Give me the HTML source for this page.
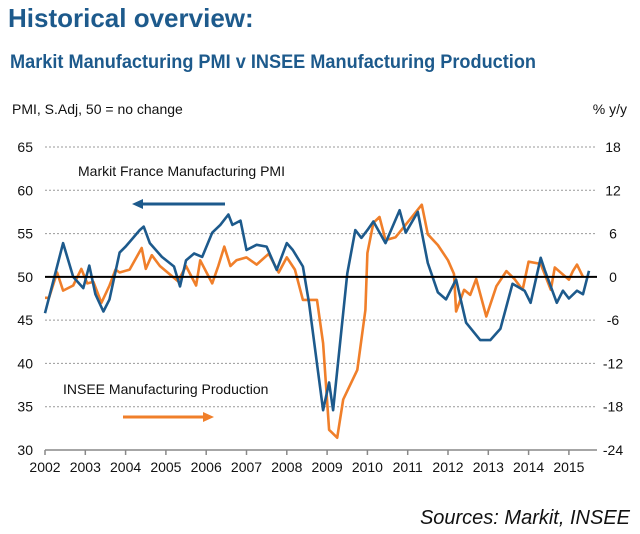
<!DOCTYPE html>
<html><head><meta charset="utf-8"><style>
body{margin:0;background:#fff;width:640px;height:534px;overflow:hidden;font-family:"Liberation Sans",sans-serif;}
svg{display:block}
</style></head><body>
<svg id="chart" width="640" height="534" viewBox="0 0 640 534" xmlns="http://www.w3.org/2000/svg">
<text x="8" y="27" font-size="26" font-weight="bold" fill="#1d5a8c" font-family="Liberation Sans, sans-serif">Historical overview:</text>
<text x="10" y="68" font-size="19" font-weight="bold" fill="#1d5a8c" font-family="Liberation Sans Narrow, Liberation Sans, sans-serif" textLength="526" lengthAdjust="spacingAndGlyphs">Markit Manufacturing PMI v INSEE Manufacturing Production</text>
<text x="12" y="114" font-size="14" fill="#111">PMI, S.Adj, 50 = no change</text>
<text x="627" y="114" font-size="14" fill="#111" text-anchor="end">% y/y</text>
<g id="grid"></g><g id="axes"></g><g id="series"></g>
<text x="78" y="176" font-size="14" fill="#111">Markit France Manufacturing PMI</text>
<g><line x1="225" y1="204" x2="140" y2="204" stroke="#1d5a8c" stroke-width="3"/><polygon points="132,204 143,199 143,209" fill="#1d5a8c"/></g>
<text x="63" y="394" font-size="14" fill="#111">INSEE Manufacturing Production</text>
<g><line x1="123" y1="417" x2="206" y2="417" stroke="#f07f2a" stroke-width="3"/><polygon points="214,417 203,412 203,422" fill="#f07f2a"/></g>
<text x="630" y="524" font-size="20" font-style="italic" fill="#111" text-anchor="end">Sources: Markit, INSEE</text>
</svg>
<script>
const leftTicks=[30,35,40,45,50,55,60,65];
const rightTicks=[-24,-18,-12,-6,0,6,12,18];
const years=[2002,2003,2004,2005,2006,2007,2008,2009,2010,2011,2012,2013,2014,2015];
const pmiDates=[2002.0,2002.45,2002.7,2002.95,2003.1,2003.25,2003.45,2003.6,2003.85,2004.0,2004.35,2004.45,2004.6,2004.9,2005.2,2005.35,2005.5,2005.7,2005.9,2006.15,2006.35,2006.55,2006.65,2006.85,2007.0,2007.25,2007.5,2007.75,2008.0,2008.15,2008.4,2008.55,2008.9,2009.05,2009.15,2009.5,2009.7,2009.85,2010.0,2010.15,2010.45,2010.8,2010.95,2011.25,2011.5,2011.75,2011.95,2012.2,2012.45,2012.8,2013.05,2013.3,2013.6,2013.9,2014.05,2014.3,2014.4,2014.7,2014.85,2015.0,2015.2,2015.35,2015.5];
const pmiValues=[45.8,53.9,50,48.7,51.3,48,46,47.4,52.8,53.5,55.4,55.8,53.9,52.3,51.2,48.9,51.9,52.7,52.3,55.1,56,57.2,56,56.5,53.1,53.7,53.5,50.8,53.9,53.1,51.2,47,34.6,37.8,34.6,50.4,55.4,54.5,55.4,56.4,53.9,57.7,55.1,57.5,51.6,48.2,47.4,49.7,44.7,42.7,42.7,44,49.2,48.4,47,52.2,50.8,47,48.4,47.5,48.4,48,50.7];
const inseeDates=[2002.0,2002.1,2002.3,2002.45,2002.7,2002.9,2003.05,2003.2,2003.4,2003.6,2003.75,2003.85,2004.1,2004.4,2004.5,2004.65,2004.85,2005.3,2005.5,2005.75,2005.85,2006.15,2006.3,2006.45,2006.6,2006.75,2007.0,2007.25,2007.55,2007.8,2008.0,2008.2,2008.4,2008.55,2008.75,2008.9,2009.05,2009.25,2009.4,2009.75,2009.95,2010.0,2010.15,2010.3,2010.45,2010.7,2011.35,2011.5,2011.75,2012.0,2012.15,2012.2,2012.4,2012.55,2012.7,2012.95,2013.2,2013.45,2013.65,2013.85,2014.0,2014.3,2014.55,2014.65,2015.0,2015.1,2015.2,2015.35];
const inseeValues=[-2.9,-2.9,0.6,-1.9,-1.2,1.1,-0.9,-0.7,-3.6,-1.2,1,0.6,1,4,1.1,3,1.5,-0.6,1.5,-1.2,2.3,-0.9,1.5,4.2,1.5,2.3,2.7,1.7,3.2,0.6,2.7,1,-3.2,-3.2,-3.2,-9.2,-21.2,-22.3,-17,-12.9,-4.6,3.3,7.5,8.3,5.1,5.5,10,5.9,4.4,2.3,0.4,-4.8,-1.8,-2.5,-0.3,-5.5,-1.3,0.8,-0.3,-1.8,2.1,1.8,-1.8,1.3,-0.4,0.8,1.7,0];
const NS='http://www.w3.org/2000/svg';
const X0=45, XSTEP=40.3, YTOP=147, YBOT=450;
function xs(d){return X0+(d-2002)*XSTEP;}
function yL(v){return YBOT-(v-30)/35*(YBOT-YTOP);}
function yR(v){return YBOT-(v+24)/42*(YBOT-YTOP);}
function mk(tag,attrs,parent){const e=document.createElementNS(NS,tag);for(const k in attrs)e.setAttribute(k,attrs[k]);parent.appendChild(e);return e;}
const grid=document.getElementById('grid'),axes=document.getElementById('axes'),series=document.getElementById('series');
leftTicks.forEach(v=>{
  if(v!==30&&v!==50){const g=mk('line',{x1:45,x2:597,y1:yL(v),y2:yL(v),stroke:'#999','stroke-width':1,'stroke-dasharray':'2,2'},grid);
  
  }
  const t=mk('text',{x:33,y:yL(v)+5,'font-size':14,'text-anchor':'end',fill:'#111'},axes);t.textContent=v;
  
  
});
rightTicks.forEach(v=>{
  const t=mk('text',{x:613,y:yR(v)+5,'font-size':14,'text-anchor':'middle',fill:'#111'},axes);t.textContent=v;
  
  
});
const xa=mk('line',{x1:45,x2:597,y1:YBOT,y2:YBOT,stroke:'#888','stroke-width':1.5},axes);


years.forEach(y=>{
  mk('line',{x1:xs(y),x2:xs(y),y1:YBOT,y2:YBOT+5,stroke:'#888','stroke-width':1.5},axes);
  const t=mk('text',{x:xs(y),y:472,'font-size':14,'text-anchor':'middle',fill:'#111'},axes);t.textContent=y;
  
  
});
const ib=inseeDates.map((d,i)=>xs(d).toFixed(1)+','+yR(inseeValues[i]).toFixed(1)).join(' ');
const pl2=mk('polyline',{points:ib,fill:'none',stroke:'#f07f2a','stroke-width':2.6,'stroke-linejoin':'round'},series);


const pb=pmiDates.map((d,i)=>xs(d).toFixed(1)+','+yL(pmiValues[i]).toFixed(1)).join(' ');
const pl1=mk('polyline',{points:pb,fill:'none',stroke:'#1d5a8c','stroke-width':2.6,'stroke-linejoin':'round'},series);


const zl=mk('line',{x1:45,x2:597,y1:yL(50),y2:yL(50),stroke:'#000','stroke-width':2},series);


</script>
</body></html>
